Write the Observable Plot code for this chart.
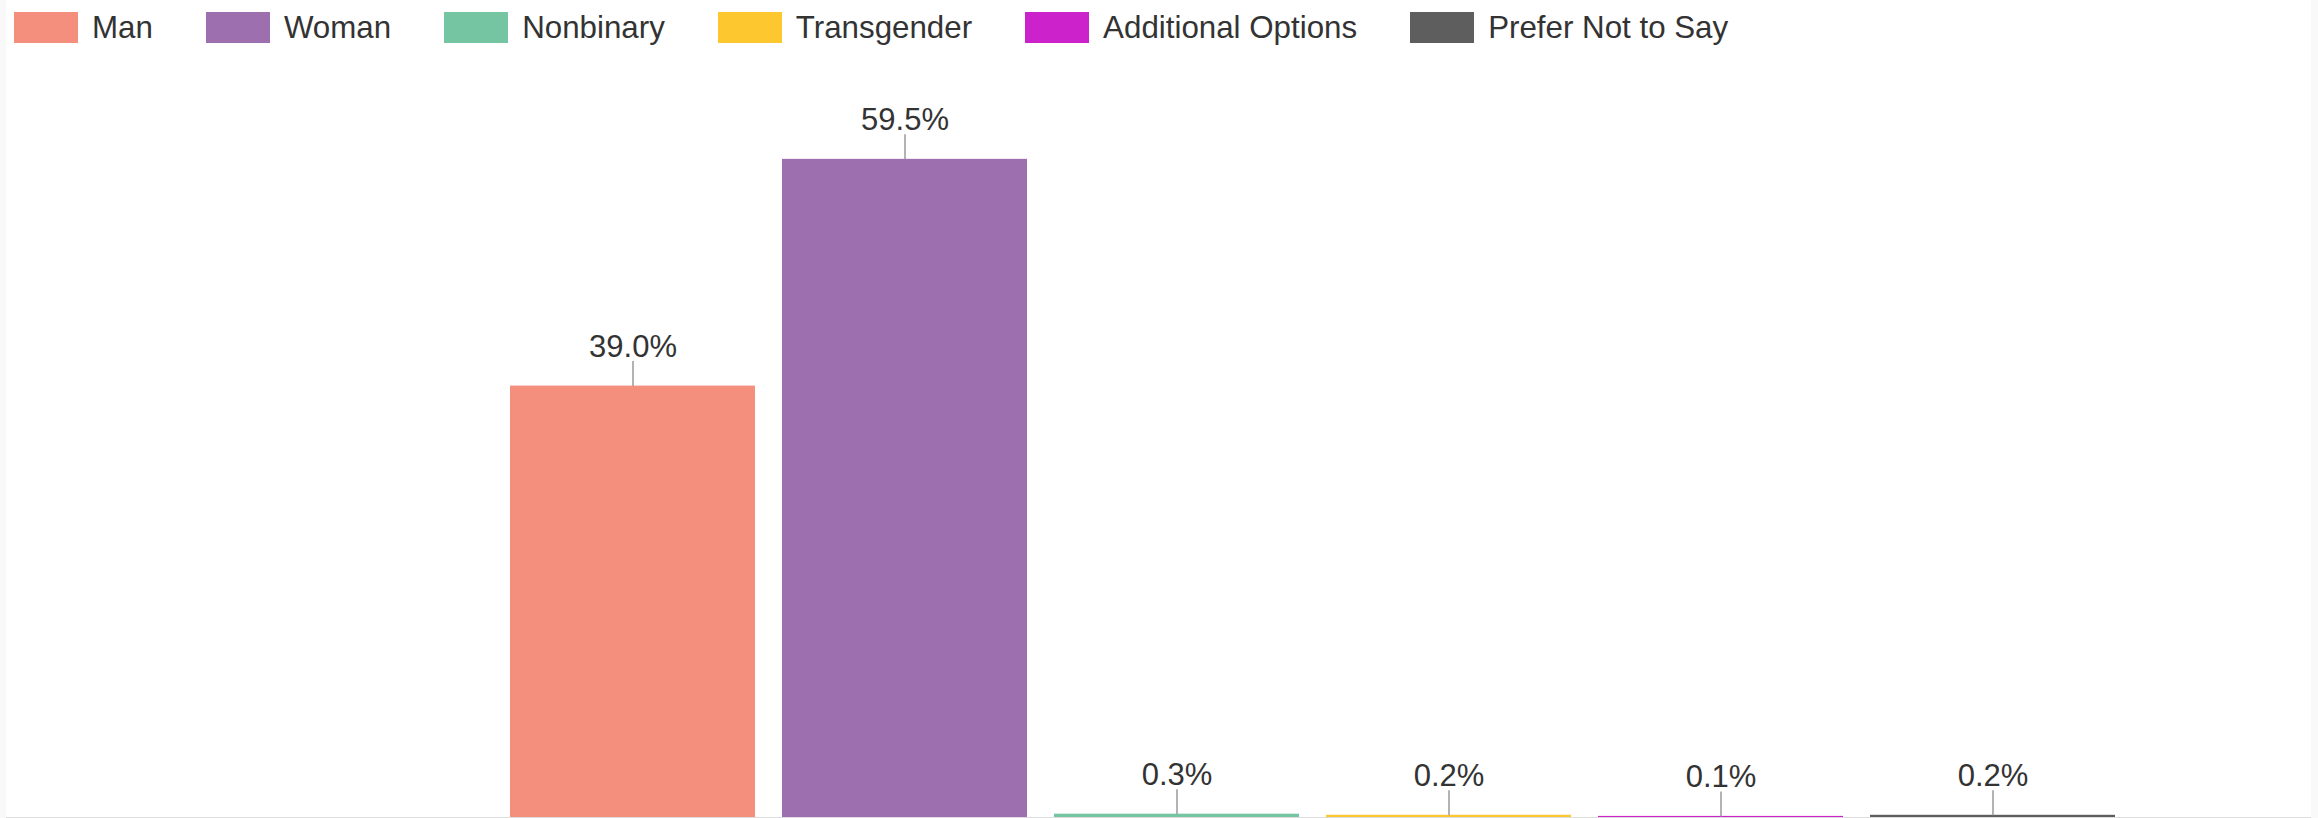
<!DOCTYPE html>
<html>
<head>
<meta charset="utf-8">
<script src="https://cdn.jsdelivr.net/npm/d3@7"></script>
<script src="https://cdn.jsdelivr.net/npm/@observablehq/plot@0.6"></script>
<style>
  html, body { margin: 0; padding: 0; background: #f9f9f9; overflow: hidden; }
  body { font-family: "Liberation Sans", Arial, sans-serif; }
  #panel { margin-left: 6px; width: 2305px; height: 818px; background: #fff; box-sizing: border-box; border-bottom: 1px solid #dcdcdc; position: relative; }
  #legend { height: 56px; box-sizing: border-box; padding: 12px 0 0 8px; display: flex; align-items: flex-start; }
  .item { display: flex; align-items: center; margin-right: 53px; height: 31px; }
  .sw { width: 64px; height: 31px; margin-right: 14px; }
  .lbl { font-size: 31.3px; color: #333; line-height: 31px; white-space: nowrap; }
  svg { display: block; }
</style>
</head>
<body>
<div id="panel">
  <div id="legend"></div>
  <div id="chart"></div>
</div>
<script>
const categories = ["Man", "Woman", "Nonbinary", "Transgender", "Additional Options", "Prefer Not to Say"];
const values = [39.0, 59.5, 0.3, 0.2, 0.1, 0.2];
const colors = ["#f48f7e", "#9d6faf", "#76c5a2", "#fcc72f", "#cc22cc", "#5e5e5e"];

const data = categories.map((c, i) => ({category: c, value: values[i]}));

const legend = document.getElementById("legend");
categories.forEach((c, i) => {
  const item = document.createElement("div");
  item.className = "item";
  const sw = document.createElement("div");
  sw.className = "sw";
  sw.style.background = colors[i];
  const lbl = document.createElement("span");
  lbl.className = "lbl";
  lbl.textContent = c;
  item.appendChild(sw);
  item.appendChild(lbl);
  legend.appendChild(item);
});

const chart = Plot.plot({
  width: 2305,
  height: 761,
  marginLeft: 504,
  marginRight: 196,
  marginTop: 42,
  marginBottom: 0,
  style: {fontFamily: "'Liberation Sans', Arial, sans-serif", background: "transparent"},
  x: {domain: categories, paddingInner: 0.1, paddingOuter: 0, axis: null},
  y: {domain: [0, 65], axis: null},
  color: {domain: categories, range: colors},
  marks: [
    Plot.barY(data, {x: "category", y: "value", fill: "category"}),
    Plot.vector(data, {x: "category", y: "value", length: 25, rotate: 0, anchor: "start", r: 0,
      stroke: "#9a9a9a", strokeWidth: 1.5, strokeLinecap: "butt"}),
    Plot.text(data, {x: "category", y: "value", text: d => d.value.toFixed(1) + "%", dy: -29,
      lineAnchor: "bottom", fontSize: 31, fill: "#333"})
  ]
});
document.getElementById("chart").appendChild(chart);
</script>
</body>
</html>
